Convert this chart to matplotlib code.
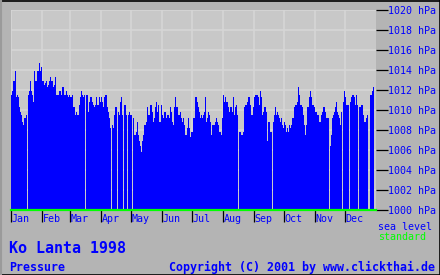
import numpy as np
import matplotlib
matplotlib.use("Agg")
import matplotlib.pyplot as plt
from matplotlib.lines import Line2D

nan = np.nan
# Daily sea-level pressure (hPa), Ko Lanta 1998; nan = no data
jan = [1011.5,1011.9,1012.9,1012.9,1013.9,1011.3,1011.5,1011.3,1010.3,1009.8,1009.5,1008.8,1008.5,1009.2,1009.2,1009.5,nan,1011.5,1011.9,1012.9,1011.9,1011.5,1010.8,1013.9,1012.9,1012.9,1013.9,1013.9,1014.7,1013.9,1014.3]
feb = [1012.9,1012.9,1012.5,1012.7,1012.9,1012.3,1012.5,1012.9,1013.3,1012.9,1012.9,1012.3,1012.5,1013.3,1011.5,1011.5,1011.5,1011.9,1011.9,1011.5,1012.3,1012.3,1011.5,1011.5,1011.9,1011.5,1011.3,1011.5]
mar = [1011.3,1011.3,1011.5,1010.3,1010.3,1009.5,1009.8,1009.5,1009.5,1010.5,1011.3,1011.9,1011.5,1011.3,1011.5,nan,1011.5,1011.5,1009.8,1010.8,1011.3,1011.3,1010.8,1010.5,1010.3,1010.5,1011.3,1010.5,1010.5,1011.3,1010.8]
apr = [1011.3,1010.8,1010.3,1011.3,1011.5,1011.5,1010.3,1009.8,1009.2,1008.2,nan,1008.5,1008.2,1009.5,1010.3,1010.3,nan,1009.8,1009.5,1010.8,1011.3,1009.5,nan,1010.5,1010.5,1009.5,nan,1009.5,1009.8,1009.5]
may = [1009.5,nan,1009.2,1007.5,1007.5,1007.8,1008.8,1007.5,1006.9,1006.4,1005.8,1006.9,1007.5,1008.5,1008.5,1008.8,1010.3,1009.5,1009.5,1010.5,1010.5,1009.8,1008.8,1009.2,1010.3,1010.8,1009.8,1010.5,1008.8,1008.8,1010.5]
jun = [1009.5,1009.2,1009.8,1009.8,1009.2,1009.5,1009.5,1009.2,1010.3,1009.8,1008.8,1008.5,1010.3,1011.3,1010.3,1010.3,1009.5,1009.5,1009.8,1009.2,1008.8,1009.2,1008.5,1007.5,1007.5,1008.2,1009.2,1008.2,1007.3,1007.8]
jul = [1007.8,1009.2,1009.2,1011.3,1011.3,1010.8,1010.3,1009.8,1009.2,1009.5,1009.2,1009.5,1009.8,1011.3,1008.8,1009.2,1009.8,1009.5,1008.8,1007.5,1008.5,1008.5,1008.5,1008.8,1009.2,1008.8,1008.5,1007.8,1007.8,1007.5,1009.2]
aug = [1011.5,1010.8,1011.3,1010.8,1010.8,1010.3,1009.8,1010.3,1010.3,1009.8,1011.3,1009.5,1010.3,1010.5,1009.5,nan,1007.8,1007.8,1007.5,1007.5,1007.8,1010.3,1010.5,1010.5,1010.8,1011.3,1011.3,1010.5,1009.5,1009.5,1010.3]
sep = [1011.3,1011.5,1011.5,1011.5,1011.3,1010.5,1011.9,1011.3,1009.5,1009.8,1010.3,1010.3,1009.8,1006.9,1008.8,1008.8,1007.8,1007.8,nan,1008.8,1009.5,1010.3,1009.5,1009.8,1009.5,1009.2,1008.8,1009.2,1008.5,1008.2]
octo = [1008.8,1008.5,1007.8,1008.2,1007.8,1008.5,1008.2,1008.5,1009.2,1009.2,1010.3,1010.5,1010.5,1010.8,1012.3,1011.5,1010.5,1010.5,1010.3,1009.5,1008.5,1007.5,1008.5,1010.3,1010.3,1011.3,1011.9,1011.3,1010.5,1010.5,1010.3]
nov = [1009.8,1009.8,1009.5,1009.5,1008.8,1008.8,1009.5,1009.8,1010.3,1010.3,1009.8,1009.2,1009.2,1009.2,nan,1006.4,1007.5,1009.2,1009.5,1009.8,1010.3,1010.8,1009.8,1009.5,1009.2,1008.5,1009.8,nan,1010.8,1011.9]
dec = [1011.3,1010.5,1010.5,1010.5,nan,1010.8,1011.3,1011.5,1011.5,1011.3,1010.5,1011.5,1010.5,nan,1010.3,1010.3,1010.5,1010.5,1009.5,1008.8,1008.8,1009.2,1009.5,nan,nan,1011.5,1011.5,1011.9,1012.3,nan,nan]

months = ["Jan", "Feb", "Mar", "Apr", "May", "Jun", "Jul", "Aug", "Sep", "Oct", "Nov", "Dec"]
y_ticks = [1000, 1002, 1004, 1006, 1008, 1010, 1012, 1014, 1016, 1018, 1020]

month_data = [jan, feb, mar, apr, may, jun, jul, aug, sep, octo, nov, dec]
values = np.array([v for m in month_data for v in m], dtype=float)
days = np.arange(len(values))
month_starts = np.cumsum([0] + [len(m) for m in month_data[:-1]])

W, H = 440, 275
BG = "#b4b4b4"
PLOT_BG = "#c8c8c8"
GRID = "#d6d6d6"
BLUE = "#0000ff"
GREEN = "#00ff00"
MONO = "DejaVu Sans Mono"

fig = plt.figure(figsize=(W / 100, H / 100), dpi=100, facecolor=BG)
ax = fig.add_axes([10.5 / W, 65 / H, 365 / W, 200 / H])
ax.set_facecolor(PLOT_BG)
ax.set_xlim(-0.5, len(values) - 0.5)
ax.set_ylim(1000, 1020)

ok = ~np.isnan(values)
ax.bar(days[ok], values[ok] - 1000, bottom=1000, width=1.0, color=BLUE,
       linewidth=0, zorder=2)

ax.set_axisbelow(True)
ax.set_yticks(y_ticks)
ax.set_yticklabels([f"{t} hPa" for t in y_ticks], family=MONO, fontsize=7.2)
ax.set_xticks(month_starts - 0.5)
ax.set_xticklabels([])
ax.grid(True, color=GRID, linewidth=1.2, zorder=0)
for s in ax.spines.values():
    s.set_visible(False)

ax.tick_params(axis="y", left=False, labelleft=False, right=True, labelright=True,
               length=8.8, width=0.9, color="black", labelcolor=BLUE, pad=0.5,
               direction="out")
ax.tick_params(axis="x", bottom=True, length=8.8, width=0.9, color="black",
               direction="out", pad=0)

ax.axhline(1000, color=GREEN, linewidth=1.6, zorder=3, clip_on=False)

for name, s in zip(months, month_starts):
    ax.text(s + 0.5, -0.045, name, transform=ax.get_xaxis_transform(),
            ha="left", va="center", fontsize=7.2, family=MONO, color=BLUE)

def fy(py):
    return 1 - py / H

fig.text(9 / W, fy(253), "Ko Lanta 1998", fontsize=10.8, family=MONO,
         fontweight="bold", color=BLUE, va="baseline", ha="left")
fig.text(9 / W, fy(271), "Pressure", fontsize=8.4, family=MONO,
         fontweight="bold", color=BLUE, va="baseline", ha="left")
fig.text(435 / W, fy(271), "Copyright (C) 2001 by www.clickthai.de", fontsize=8.4,
         family=MONO, fontweight="bold", color=BLUE, va="baseline", ha="right")
fig.text(378 / W, fy(230), "sea level", fontsize=7.2, family=MONO, color=BLUE,
         va="baseline", ha="left")
fig.text(378 / W, fy(240), "standard", fontsize=7.2, family=MONO, color=GREEN,
         va="baseline", ha="left")

# outer frame
fig.add_artist(Line2D([0, 1], [1 - 0.5 / H, 1 - 0.5 / H], color="black", lw=1.2))
fig.add_artist(Line2D([0, 1], [0.5 / H, 0.5 / H], color="black", lw=1.2))
fig.add_artist(Line2D([1 - 0.5 / W, 1 - 0.5 / W], [0, 1], color="black", lw=1.2))
fig.add_artist(Line2D([1 / W, 1 / W], [0, 1], color="#9a9a9a", lw=1.5))

fig.savefig("out.png", dpi=100, facecolor=BG)
